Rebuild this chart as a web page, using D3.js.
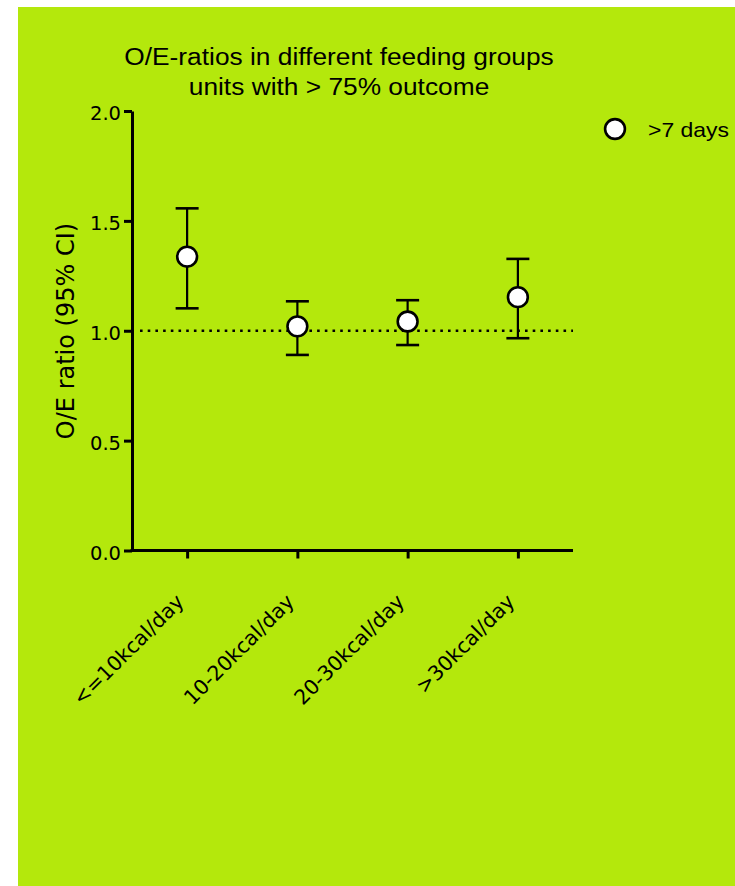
<!DOCTYPE html>
<html>
<head>
<meta charset="utf-8">
<script src="https://cdn.jsdelivr.net/npm/d3@7"></script>
<style>
  html, body { margin: 0; padding: 0; background: #ffffff; }
  svg { display: block; }
</style>
</head>
<body>
<svg id="chart" width="735" height="886"></svg>
<script>
// Feeding groups (x categories)
const categories = ["<=10kcal/day", "10-20kcal/day", "20-30kcal/day", ">30kcal/day"];
// Observed/expected ratio per group with 95% CI bounds
const ratios = [1.337, 1.020, 1.042, 1.153];
const lowerCI = [1.102, 0.890, 0.935, 0.966];
const upperCI = [1.557, 1.134, 1.139, 1.327];
// Y axis ticks
const yTicks = [0.0, 0.5, 1.0, 1.5, 2.0];
const referenceLine = 1.0;
const seriesName = ">7 days";
const titleLines = ["O/E-ratios in different feeding groups", "units with > 75% outcome"];
const yAxisTitle = "O/E ratio (95% CI)";

const svg = d3.select("#chart");
const bg = "#b4e80c";
const ink = "#000000";
const gothic = "'DejaVu Sans', sans-serif";
const sans = "'Liberation Sans', Arial, sans-serif";

// Panel background
svg.append("rect")
  .attr("x", 18).attr("y", 7).attr("width", 717).attr("height", 879)
  .attr("fill", bg);

const x = d3.scalePoint().domain(categories).range([132, 573]).padding(0.5);
const y = d3.scaleLinear().domain([0, 2]).range([550.5, 111]);

const rows = categories.map((c, i) => ({ cat: c, v: ratios[i], lo: lowerCI[i], hi: upperCI[i] }));

// Y axis
const yAxis = svg.append("g")
  .attr("transform", "translate(132,0)")
  .call(d3.axisLeft(y).tickValues(yTicks).tickFormat(d3.format(".1f")).tickSize(8).tickSizeOuter(0).tickPadding(3));
yAxis.select(".domain").attr("stroke", ink).attr("stroke-width", 3);
yAxis.selectAll(".tick line").attr("stroke", ink).attr("stroke-width", 3);
yAxis.selectAll(".tick text")
  .attr("fill", ink).attr("dy", "0.45em")
  .style("font-family", gothic).style("font-size", "19.5px");

// X axis
const xAxis = svg.append("g")
  .attr("transform", "translate(0,550.5)")
  .call(d3.axisBottom(x).tickSize(8).tickSizeOuter(0).tickFormat(""));
xAxis.select(".domain").attr("stroke", ink).attr("stroke-width", 3)
  .attr("d", `M130.5,0H573`);
xAxis.selectAll(".tick line").attr("stroke", ink).attr("stroke-width", 3);

// Rotated category labels
svg.append("g").selectAll("text")
  .data(categories)
  .join("text")
  .attr("transform", d => `translate(${x(d) - 2},${603}) rotate(-45)`)
  .attr("text-anchor", "end")
  .attr("fill", ink)
  .style("font-family", gothic).style("font-size", "20.5px")
  .text(d => d);

// Y axis title
svg.append("text")
  .attr("transform", `translate(74,${331}) rotate(-90)`)
  .attr("text-anchor", "middle")
  .attr("fill", ink)
  .style("font-family", gothic).style("font-size", "24px")
  .text(yAxisTitle);

// Reference line at ratio 1
svg.append("line")
  .attr("x1", 140).attr("x2", 573)
  .attr("y1", y(referenceLine)).attr("y2", y(referenceLine))
  .attr("stroke", ink).attr("stroke-width", 2.6)
  .attr("stroke-dasharray", "2.6,5.1");

// Error bars
const bars = svg.append("g").selectAll("g").data(rows).join("g");
bars.append("line")
  .attr("x1", d => x(d.cat)).attr("x2", d => x(d.cat))
  .attr("y1", d => y(d.lo)).attr("y2", d => y(d.hi))
  .attr("stroke", ink).attr("stroke-width", 2.2);
bars.append("line")
  .attr("x1", d => x(d.cat) - 11.5).attr("x2", d => x(d.cat) + 11.5)
  .attr("y1", d => y(d.hi)).attr("y2", d => y(d.hi))
  .attr("stroke", ink).attr("stroke-width", 2.6);
bars.append("line")
  .attr("x1", d => x(d.cat) - 11.5).attr("x2", d => x(d.cat) + 11.5)
  .attr("y1", d => y(d.lo)).attr("y2", d => y(d.lo))
  .attr("stroke", ink).attr("stroke-width", 2.6);

// Points
svg.append("g").selectAll("circle").data(rows).join("circle")
  .attr("cx", d => x(d.cat)).attr("cy", d => y(d.v))
  .attr("r", 9.9)
  .attr("fill", "#ffffff").attr("stroke", ink).attr("stroke-width", 2.6);

// Title
svg.append("g").selectAll("text").data(titleLines).join("text")
  .attr("transform", (d, i) => `translate(339,${65 + i * 30}) scale(1.12,1)`)
  .attr("text-anchor", "middle")
  .attr("fill", ink)
  .style("font-family", sans).style("font-size", "23.5px")
  .text(d => d);

// Legend
const legend = svg.append("g");
legend.append("circle")
  .attr("cx", 615).attr("cy", 129).attr("r", 9.9)
  .attr("fill", "#ffffff").attr("stroke", ink).attr("stroke-width", 2.6);
legend.append("text")
  .attr("transform", "translate(648,136.5) scale(1.12,1)")
  .attr("fill", ink)
  .style("font-family", sans).style("font-size", "20.5px")
  .text(seriesName);
</script>
</body>
</html>
